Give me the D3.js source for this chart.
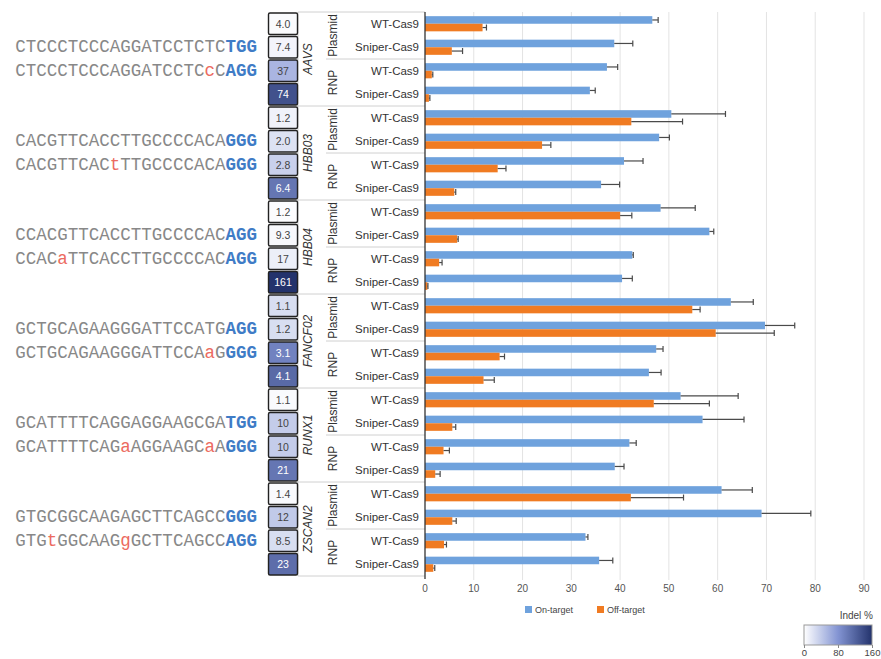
<!DOCTYPE html>
<html>
<head>
<meta charset="utf-8">
<script src="https://cdn.jsdelivr.net/npm/d3@7"></script>
<style>
  body { margin: 0; background: #fff; }
  svg text { font-family: "Liberation Sans", Arial, sans-serif; }
</style>
</head>
<body>
<div id="chart"></div>
<script>
// genes, delivery methods and Cas9 variants
const genes = ['AAVS', 'HBB03', 'HBB04', 'FANCF02', 'RUNX1', 'ZSCAN2'];
const deliveries = ['Plasmid', 'RNP'];
const variants = ['WT-Cas9', 'Sniper-Cas9'];

// on/off-target sequences (lowercase = mismatch, last 3 = PAM)
const onSeqs = ['CTCCCTCCCAGGATCCTCTCTGG', 'CACGTTCACCTTGCCCCACAGGG', 'CCACGTTCACCTTGCCCCACAGG',
  'GCTGCAGAAGGGATTCCATGAGG', 'GCATTTTCAGGAGGAAGCGATGG', 'GTGCGGCAAGAGCTTCAGCCGGG'];
const offSeqs = ['CTCCCTCCCAGGATCCTCcCAGG', 'CACGTTCACtTTGCCCCACAGGG', 'CCACaTTCACCTTGCCCCACAGG',
  'GCTGCAGAAGGGATTCCAaGGGG', 'GCATTTTCAGaAGGAAGCaAGGG', 'GTGtGGCAAGgGCTTCAGCCAGG'];

// heatmap numbers and their shade read against the 0-160 colour bar
const heatLabels = ['4.0', '7.4', '37', '74', '1.2', '2.0', '2.8', '6.4', '1.2', '9.3', '17', '161',
  '1.1', '1.2', '3.1', '4.1', '1.1', '10', '10', '21', '1.4', '12', '8.5', '23'];
const heatShade = [3, 8, 55, 135, 10, 22, 35, 105, 2, 5, 12, 160,
  25, 25, 95, 115, 4, 38, 38, 105, 4, 40, 25, 112];

// indel % : on-target, off-target and the error bar ends
const onTarget = [46.6, 38.8, 37.3, 33.8, 50.5, 48.0, 40.8, 36.1, 48.3, 58.3, 42.5, 40.4,
  62.7, 69.7, 47.4, 45.9, 52.4, 56.9, 41.9, 38.9, 60.8, 69.0, 32.9, 35.7];
const onErr = [47.8, 42.6, 39.5, 34.9, 61.6, 50.1, 44.7, 39.9, 55.4, 59.2, 42.7, 42.5,
  67.3, 75.8, 48.8, 48.4, 64.2, 65.4, 43.3, 40.8, 67.1, 79.1, 33.4, 38.5];
const offTarget = [11.8, 5.5, 1.4, 0.8, 42.3, 24.0, 14.9, 6.0, 40.0, 6.6, 2.9, 0.5,
  54.8, 59.6, 15.3, 12.0, 46.9, 5.6, 3.8, 2.1, 42.2, 5.6, 3.9, 1.7];
const offErr = [12.6, 7.7, 1.6, 1.0, 52.8, 25.8, 16.6, 6.3, 42.4, 6.8, 3.5, 0.6,
  56.4, 71.6, 16.3, 14.2, 58.3, 6.3, 5.0, 3.1, 53.0, 6.4, 4.4, 2.0];

const xTicks = [0, 10, 20, 30, 40, 50, 60, 70, 80, 90];

const W = 881, H = 659;
const svg = d3.select('#chart').append('svg')
  .attr('width', W).attr('height', H);

const yTop = 12, yBot = 576;
const rows = [];
genes.forEach(function(g, gi) {
  deliveries.forEach(function(d, di) {
    variants.forEach(function(v, vi) {
      const i = gi * 4 + di * 2 + vi;
      rows.push({id: i, gene: g, delivery: d, variant: v,
        on: onTarget[i], onE: onErr[i], off: offTarget[i], offE: offErr[i],
        heat: heatLabels[i], shade: heatShade[i]});
    });
  });
});

const y = d3.scaleBand().domain(rows.map(d => d.id)).range([yTop, yBot]);
const ySub = d3.scaleBand().domain(['on', 'off']).range([0, y.bandwidth()]).paddingOuter(0.55);
const x = d3.scaleLinear().domain([0, 90]).range([425, 864]);
const heatColor = d3.scaleLinear().domain([0, 80, 160])
  .range(['#ffffff', '#8394d3', '#23336c']);

// gridlines
svg.append('g').selectAll('line').data(xTicks.slice(1)).enter().append('line')
  .attr('x1', d => x(d)).attr('x2', d => x(d))
  .attr('y1', yTop).attr('y2', yBot + 4)
  .attr('stroke', '#e3e3e3').attr('stroke-width', 1);

// x axis labels
svg.append('g').selectAll('text').data(xTicks).enter().append('text')
  .attr('x', d => x(d)).attr('y', 592)
  .attr('text-anchor', 'middle')
  .attr('font-size', 10).attr('fill', '#555')
  .text(d => d);

// row separators in the label panel
const sep = svg.append('g').attr('stroke', '#d0d0d0').attr('stroke-width', 1);
sep.append('line').attr('x1', 298).attr('x2', 425).attr('y1', yTop).attr('y2', yTop);
genes.forEach(function(g, gi) {
  const yb = y(gi * 4 + 3) + y.bandwidth();
  const ym = y(gi * 4 + 2);
  sep.append('line').attr('x1', 298).attr('x2', 425).attr('y1', yb).attr('y2', yb);
  sep.append('line').attr('x1', 326).attr('x2', 425).attr('y1', ym).attr('y2', ym);
});
sep.append('line').attr('x1', 298).attr('x2', 298).attr('y1', yTop).attr('y2', yBot);

// bars
const barG = svg.append('g');
barG.selectAll('.on').data(rows).enter().append('rect')
  .attr('x', x(0)).attr('y', d => y(d.id) + ySub('on'))
  .attr('width', d => x(d.on) - x(0)).attr('height', ySub.bandwidth())
  .attr('fill', '#6fa2dd');
barG.selectAll('.off').data(rows).enter().append('rect')
  .attr('x', x(0)).attr('y', d => y(d.id) + ySub('off'))
  .attr('width', d => x(d.off) - x(0)).attr('height', ySub.bandwidth())
  .attr('fill', '#f07b22');

// error bars
function errBars(key, val, err) {
  const g = barG.append('g').attr('stroke', '#4a4a4a').attr('stroke-width', 1.2);
  rows.forEach(function(d) {
    const cy = y(d.id) + ySub(key) + ySub.bandwidth() / 2;
    g.append('line').attr('x1', x(d[val])).attr('x2', x(d[err])).attr('y1', cy).attr('y2', cy);
    g.append('line').attr('x1', x(d[err])).attr('x2', x(d[err])).attr('y1', cy - 3).attr('y2', cy + 3);
  });
}
errBars('on', 'on', 'onE');
errBars('off', 'off', 'offE');

// axis line
svg.append('line').attr('x1', x(0)).attr('x2', x(0)).attr('y1', yTop).attr('y2', yBot + 3)
  .attr('stroke', '#333').attr('stroke-width', 1.3);

// variant labels
svg.append('g').selectAll('text').data(rows).enter().append('text')
  .attr('x', 419).attr('y', d => y(d.id) + y.bandwidth() / 2 + 4)
  .attr('text-anchor', 'end').attr('font-size', 11.5).attr('fill', '#333')
  .text(d => d.variant);

// delivery labels
const dl = [];
genes.forEach(function(g, gi) { deliveries.forEach(function(d, di) { dl.push({gi: gi, di: di, name: d}); }); });
svg.append('g').selectAll('text').data(dl).enter().append('text')
  .attr('transform', function(d) {
    const cy = y(d.gi * 4 + d.di * 2) + y.bandwidth();
    return 'translate(337,' + cy + ') rotate(-90)';
  })
  .attr('text-anchor', 'middle').attr('font-size', 12).attr('fill', '#333')
  .text(d => d.name);

// gene labels
svg.append('g').selectAll('text').data(genes).enter().append('text')
  .attr('transform', function(d, i) {
    const cy = y(i * 4) + y.bandwidth() * 2;
    return 'translate(312,' + cy + ') rotate(-90)';
  })
  .attr('text-anchor', 'middle').attr('font-size', 12).attr('font-style', 'italic')
  .attr('fill', '#333')
  .text(d => d);

// heatmap column
const hm = svg.append('g');
hm.selectAll('rect').data(rows).enter().append('rect')
  .attr('x', 268.5).attr('y', d => y(d.id) + 1)
  .attr('width', 29).attr('height', y.bandwidth() - 2)
  .attr('rx', 1.5)
  .attr('fill', d => heatColor(d.shade))
  .attr('stroke', '#222').attr('stroke-width', 1.4);
hm.selectAll('text').data(rows).enter().append('text')
  .attr('x', 283).attr('y', d => y(d.id) + y.bandwidth() / 2 + 4)
  .attr('text-anchor', 'middle').attr('font-size', 10.5)
  .attr('fill', d => d.shade > 85 ? '#fff' : '#444')
  .text(d => d.heat);

// sequences
function drawSeq(seq, yy) {
  const t = svg.append('text')
    .attr('x', 257).attr('y', yy)
    .attr('text-anchor', 'end')
    .style('font-family', '"Liberation Mono", "Courier New", monospace')
    .attr('font-size', 17.5).attr('fill', '#888');
  seq.split('').forEach(function(c, i) {
    const isPam = i >= seq.length - 3;
    const isMis = c !== c.toUpperCase();
    t.append('tspan')
      .attr('fill', isMis ? '#ec6a60' : (isPam ? '#3f7cc6' : '#888'))
      .attr('font-weight', isPam ? 'bold' : 'normal')
      .text(c);
  });
}
genes.forEach(function(g, gi) {
  drawSeq(onSeqs[gi], y(gi * 4 + 1) + y.bandwidth() / 2 + 5);
  drawSeq(offSeqs[gi], y(gi * 4 + 2) + y.bandwidth() / 2 + 5);
});

// legend
const legend = [{name: 'On-target', color: '#6fa2dd', x: 525}, {name: 'Off-target', color: '#f07b22', x: 597}];
const lg = svg.append('g');
lg.selectAll('rect').data(legend).enter().append('rect')
  .attr('x', d => d.x).attr('y', 606).attr('width', 7).attr('height', 7)
  .attr('fill', d => d.color);
lg.selectAll('text').data(legend).enter().append('text')
  .attr('x', d => d.x + 10).attr('y', 613)
  .attr('font-size', 9).attr('fill', '#444')
  .text(d => d.name);

// colour bar
const cbScale = d3.scaleLinear().domain([0, 160]).range([804, 872]);
const defs = svg.append('defs');
const grad = defs.append('linearGradient').attr('id', 'cb');
d3.range(0, 161, 20).forEach(function(v) {
  grad.append('stop').attr('offset', (v / 160 * 100) + '%').attr('stop-color', heatColor(v));
});
svg.append('rect').attr('x', 804).attr('y', 625).attr('width', 68).attr('height', 20)
  .attr('fill', 'url(#cb)').attr('stroke', '#999').attr('stroke-width', 1);
svg.append('text').attr('x', 873).attr('y', 619).attr('text-anchor', 'end')
  .attr('font-size', 10).attr('fill', '#444').text('Indel %');
svg.append('g').attr('transform', 'translate(0,645)')
  .call(d3.axisBottom(cbScale).tickValues([0, 80, 160]).tickSize(3))
  .call(g => g.select('.domain').remove())
  .call(g => g.selectAll('text').attr('font-size', 9.5).attr('fill', '#444').attr('y', 4).attr('dy', '0.71em'))
  .call(g => g.selectAll('line').attr('stroke', '#888'));
</script>
</body>
</html>
